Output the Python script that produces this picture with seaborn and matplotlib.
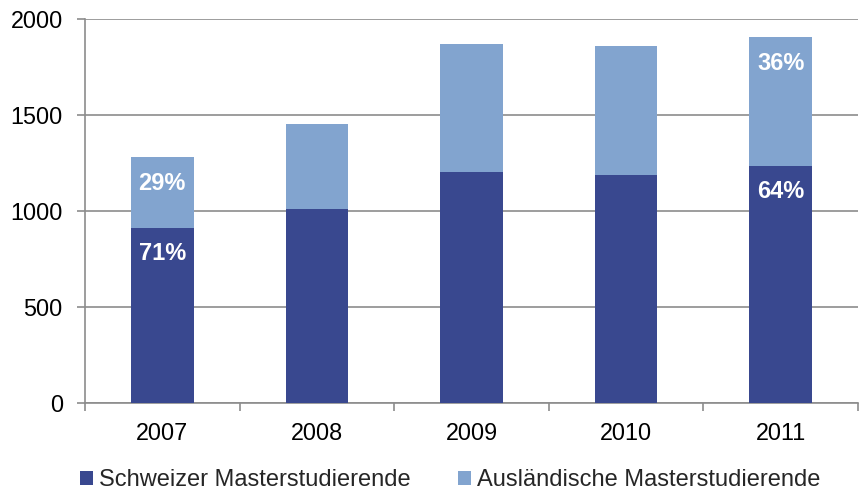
import matplotlib
matplotlib.use("Agg")
import matplotlib.pyplot as plt
import seaborn as sns
import pandas as pd
from matplotlib.patches import Patch

years = ["2007", "2008", "2009", "2010", "2011"]
swiss = [911, 1010, 1201, 1187, 1236]
foreign = [369, 445, 670, 674, 670]
series_names = ["Schweizer Masterstudierende", "Ausländische Masterstudierende"]
labels_swiss = {"2007": "71%", "2011": "64%"}
labels_foreign = {"2007": "29%", "2011": "36%"}
yticks = [0, 500, 1000, 1500, 2000]

dark = "#39488F"
light = "#82A4CF"
grey = "#8C8C8C"

sns.set_theme(style="white")
plt.rcParams["font.family"] = ["Liberation Sans", "DejaVu Sans"]

df = pd.DataFrame({"year": years, "swiss": swiss, "foreign": foreign})

fig = plt.figure(figsize=(8.6, 4.92), dpi=100)
ax = fig.add_axes([85 / 860, 1 - 403 / 492, 773 / 860, (403 - 19) / 492])

sns.barplot(data=df, x="year", y="swiss", order=years, color=dark, width=0.406,
            saturation=1, ax=ax, edgecolor="none", zorder=3)
sns.barplot(data=df, x="year", y="foreign", order=years, color=light, width=0.406,
            saturation=1, ax=ax, bottom=df["swiss"], edgecolor="none", zorder=3)

ax.set_xlim(-0.5, len(years) - 0.5)
ax.set_ylim(0, 2000)
ax.set_yticks(yticks)
ax.set_yticklabels([str(t) for t in yticks])
ax.set_xlabel("")
ax.set_ylabel("")

ax.yaxis.grid(True, color=grey, linewidth=1.2, zorder=0)
ax.set_axisbelow(True)
for s in ["top", "right"]:
    ax.spines[s].set_visible(False)
for s in ["left", "bottom"]:
    ax.spines[s].set_color(grey)
    ax.spines[s].set_linewidth(1.2)

ax.tick_params(axis="y", which="major", length=6, width=1.2, color=grey,
               labelsize=16.8, labelcolor="black", pad=10, left=True)
ax.tick_params(axis="x", which="major", length=0, labelsize=16.8,
               labelcolor="black", pad=14)
ax.set_xticks([i - 0.5 for i in range(len(years) + 1)], minor=True)
ax.tick_params(axis="x", which="minor", length=6, width=1.2, color=grey,
               bottom=True)

for i, y in enumerate(years):
    if y in labels_swiss:
        ax.annotate(labels_swiss[y], (i, swiss[i]), xytext=(0, -18.5),
                    textcoords="offset points", ha="center", va="center",
                    color="white", fontweight="bold", fontsize=17, zorder=5)
    if y in labels_foreign:
        ax.annotate(labels_foreign[y], (i, swiss[i] + foreign[i]), xytext=(0, -19),
                    textcoords="offset points", ha="center", va="center",
                    color="white", fontweight="bold", fontsize=17, zorder=5)

handles = [Patch(facecolor=dark, edgecolor="none"), Patch(facecolor=light, edgecolor="none")]
fig.legend(handles, series_names, loc="center left", bbox_to_anchor=(80 / 860, 1 - 480 / 492),
           ncol=2, frameon=False, fontsize=17, handlelength=0.55, handleheight=0.55,
           handletextpad=0.25, columnspacing=2.0, borderaxespad=0, borderpad=0)

fig.savefig("out.png", dpi=100)
